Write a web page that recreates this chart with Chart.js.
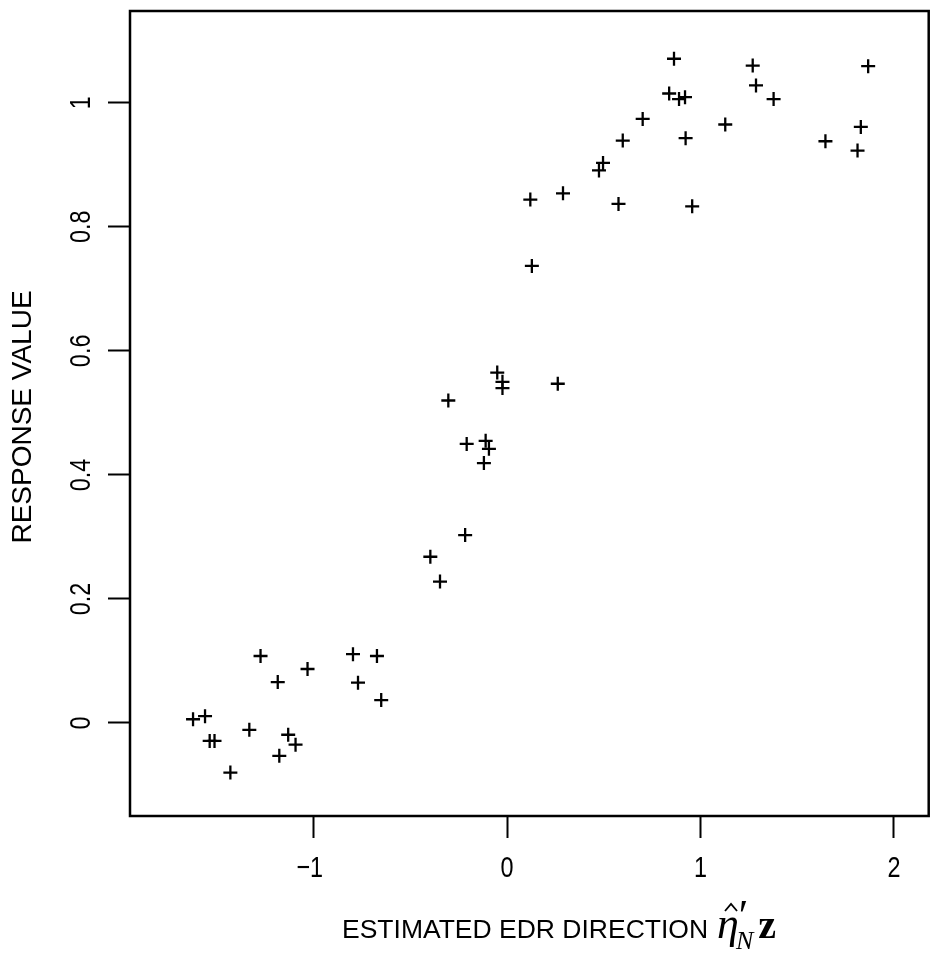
<!DOCTYPE html>
<html>
<head>
<meta charset="utf-8">
<script src="https://cdn.jsdelivr.net/npm/chart.js@4.4.1/dist/chart.umd.min.js"></script>
<style>
  html, body { margin: 0; padding: 0; background: #fff; }
  #wrap { width: 938px; height: 955px; position: relative; }
</style>
</head>
<body>
<div id="wrap"><canvas id="edrChart"></canvas></div>
<script>
// values
const xValues = [
  -1.624, -1.562, -1.538, -1.513, -1.431, -1.333, -1.275, -1.186, -1.178, -1.132,
  -1.094, -1.032, -0.797, -0.771, -0.673, -0.651, -0.397, -0.347, -0.217, -0.304,
  -0.209, -0.111, -0.094, -0.120, -0.051, -0.024, -0.024, 0.262, 0.128, 0.120,
  0.289, 0.576, 0.957, 0.475, 0.496, 0.598, 0.701, 0.838, 0.863, 0.889,
  0.920, 0.923, 1.128, 1.270, 1.287, 1.378, 1.646, 1.812, 1.829, 1.867
];
const yValues = [
  0.006, 0.011, -0.029, -0.029, -0.080, -0.011, 0.108, 0.066, -0.053, -0.019,
  -0.035, 0.087, 0.111, 0.065, 0.108, 0.037, 0.268, 0.228, 0.303, 0.520,
  0.450, 0.455, 0.442, 0.419, 0.565, 0.550, 0.540, 0.547, 0.737, 0.844,
  0.854, 0.837, 0.833, 0.891, 0.903, 0.939, 0.974, 1.015, 1.071, 1.006,
  1.009, 0.943, 0.965, 1.060, 1.028, 1.006, 0.938, 0.923, 0.961, 1.059
];
const xTicks = [-1, 0, 1, 2];
const yTicks = [0, 0.2, 0.4, 0.6, 0.8, 1];
const xTitle = 'ESTIMATED EDR DIRECTION';
const yTitle = 'RESPONSE VALUE';

const SANS = '"Liberation Sans", Arial, sans-serif';
const SERIF = '"Liberation Serif", "DejaVu Serif", serif';

const fmt = v => (v < 0 ? '\u2212' : '') + String(Math.abs(v));

// squeezed tick label, like the narrow digits of the scan
function narrowText(ctx, text, x, y, angle) {
  ctx.save();
  ctx.translate(x, y);
  ctx.rotate(angle);
  ctx.scale(0.78, 1);
  ctx.fillText(text, 0, 0);
  ctx.restore();
}

// frame, tick labels and the two axis titles
const framePlugin = {
  id: 'frame',
  afterDraw(chart) {
    const { ctx, chartArea: a } = chart;
    const xs = chart.scales.x, ys = chart.scales.y;
    ctx.save();
    ctx.strokeStyle = '#000';
    ctx.lineWidth = 2.5;
    ctx.strokeRect(a.left, a.top, a.right - a.left, a.bottom - a.top);

    ctx.fillStyle = '#000';
    ctx.font = '30px ' + SANS;
    ctx.textAlign = 'center';
    ctx.textBaseline = 'middle';
    xs.ticks.forEach(t => {
      const shift = t.value < 0 ? -4 : 0;
      narrowText(ctx, fmt(t.value), xs.getPixelForValue(t.value) + shift, 869, 0);
    });
    ys.ticks.forEach(t => {
      narrowText(ctx, fmt(t.value), 82, ys.getPixelForValue(t.value), -Math.PI / 2);
    });

    ctx.save();
    ctx.translate(23, 417);
    ctx.rotate(-Math.PI / 2);
    ctx.font = '28px ' + SANS;
    ctx.fillText(yTitle, 0, 0);
    ctx.restore();

    // x title with the math part
    const base = 938;
    ctx.textAlign = 'left';
    ctx.textBaseline = 'alphabetic';
    ctx.font = '26.5px ' + SANS;
    let x = 342;
    ctx.fillText(xTitle, x, base);
    x += ctx.measureText(xTitle).width + 9;
    ctx.font = 'italic 44px ' + SERIF;
    const wEta = ctx.measureText('\u03B7').width;
    ctx.fillText('\u03B7', x, base);
    // hat over eta
    const cx = x + wEta / 2 + 3;
    ctx.lineWidth = 1.8;
    ctx.beginPath();
    ctx.moveTo(cx - 6, base - 27);
    ctx.lineTo(cx, base - 34);
    ctx.lineTo(cx + 6, base - 27);
    ctx.stroke();
    // prime
    ctx.font = 'italic 44px ' + SERIF;
    ctx.fillText('\u2032', x + wEta - 3, base - 8);
    x += wEta - 3;
    ctx.font = 'italic 26px ' + SERIF;
    ctx.fillText('N', x, base + 11);
    x += ctx.measureText('N').width + 5;
    ctx.font = 'bold 40px ' + SERIF;
    ctx.fillText('z', x, base);
    ctx.restore();
  }
};

new Chart(document.getElementById('edrChart').getContext('2d'), {
  type: 'scatter',
  data: {
    datasets: [{
      data: xValues.map((v, i) => ({ x: v, y: yValues[i] })),
      pointStyle: 'cross',
      radius: 7,
      borderWidth: 2.3,
      borderColor: '#000',
      backgroundColor: '#000'
    }]
  },
  options: {
    responsive: true,
    maintainAspectRatio: false,
    animation: false,
    layout: { padding: { left: 0, top: 11, right: 3, bottom: 0 } },
    plugins: { legend: { display: false }, tooltip: { enabled: false } },
    scales: {
      x: {
        type: 'linear',
        min: -1.95,
        max: 2.18,
        afterBuildTicks: s => { s.ticks = xTicks.map(v => ({ value: v })); },
        afterFit: s => { s.height = 139; },
        border: { display: false },
        grid: { drawOnChartArea: false, drawTicks: true, tickLength: 22, tickWidth: 2, tickColor: '#000' },
        ticks: { display: false }
      },
      y: {
        type: 'linear',
        min: -0.15,
        max: 1.148,
        afterBuildTicks: s => { s.ticks = yTicks.map(v => ({ value: v })); },
        afterFit: s => { s.width = 130; },
        border: { display: false },
        grid: { drawOnChartArea: false, drawTicks: true, tickLength: 22, tickWidth: 2, tickColor: '#000' },
        ticks: { display: false }
      }
    }
  },
  plugins: [framePlugin]
});
</script>
</body>
</html>
